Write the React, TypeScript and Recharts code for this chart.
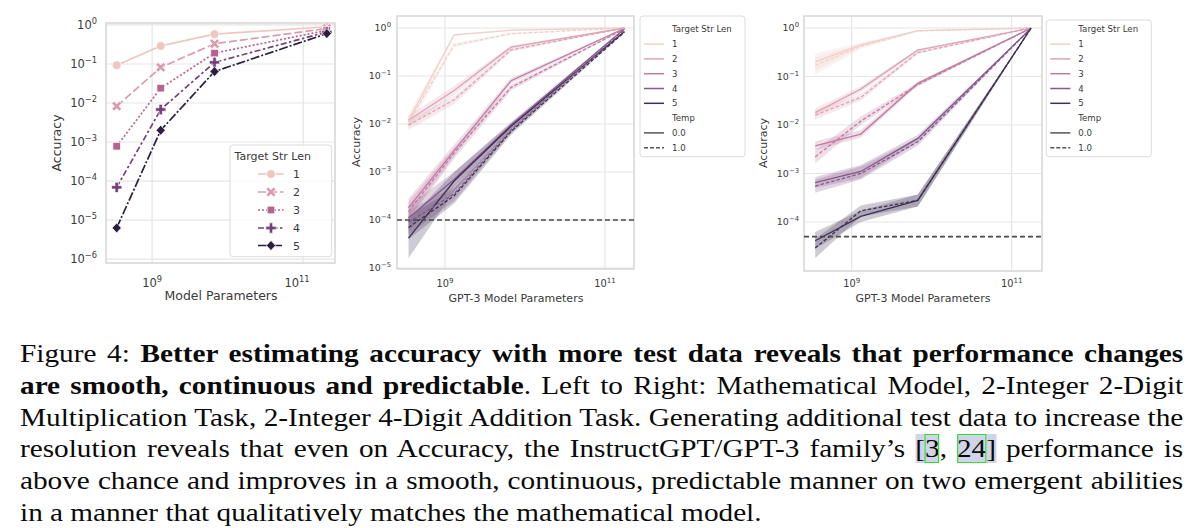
import React from "react";
import {
  ComposedChart,
  Line,
  Area,
  XAxis,
  YAxis,
  CartesianGrid,
  ReferenceLine,
  ReferenceArea,
} from "recharts";

// model sizes (x)
const paramsMath = [3.4e8, 1.3e9, 6.7e9, 2.05e11];
const paramsGpt3 = [3.5e8, 1.3e9, 6.7e9, 1.75e11];

const strLens = ["1", "2", "3", "4", "5"];
const temps = ["0.0", "1.0"];
const xTicks = [1e9, 1e10, 1e11];
const mathYTicks = [1e-6, 1e-5, 1e-4, 1e-3, 1e-2, 1e-1, 1];
const mulYTicks = [1e-5, 1e-4, 1e-3, 1e-2, 1e-1, 1];
const addYTicks = [1e-4, 1e-3, 1e-2, 1e-1, 1];

// left: mathematical model
const mathLen1 = [0.093, 0.29, 0.58, 0.9];
const mathLen2 = [0.0083, 0.082, 0.33, 0.81];
const mathLen3 = [0.00078, 0.024, 0.19, 0.73];
const mathLen4 = [0.000069, 0.0068, 0.11, 0.66];
const mathLen5 = [0.0000063, 0.002, 0.064, 0.6];

// middle: 2-integer 2-digit multiplication
const mulT0Len1 = [0.012, 0.72, 0.9, 1.0];
const mulT1Len1 = [0.011, 0.44, 0.76, 1.0];
const mulT0Len2 = [0.012, 0.05, 0.4, 1.0];
const mulT1Len2 = [0.0095, 0.032, 0.35, 1.0];
const mulT0Len3 = [0.00018, 0.0028, 0.08, 0.98];
const mulT1Len3 = [0.00015, 0.0025, 0.058, 0.95];
const mulT0Len4 = [0.00011, 0.0007, 0.0095, 0.97];
const mulT1Len4 = [0.00009, 0.00035, 0.0075, 0.93];
const mulT0Len5 = [0.000042, 0.00065, 0.009, 0.85];
const mulT1Len5 = [0.00007, 0.00032, 0.007, 0.82];

const mulT0Len1Ci = [[0.009, 0.016], [0.68, 0.76], [0.88, 0.92], [0.99, 1.0]];
const mulT1Len1Ci = [[0.008, 0.014], [0.4, 0.48], [0.73, 0.8], [0.99, 1.0]];
const mulT0Len2Ci = [[0.009, 0.015], [0.04, 0.062], [0.37, 0.43], [0.99, 1.0]];
const mulT1Len2Ci = [[0.0075, 0.012], [0.026, 0.038], [0.32, 0.38], [0.99, 1.0]];
const mulT0Len3Ci = [[0.00011, 0.00028], [0.0021, 0.0037], [0.07, 0.09], [0.97, 0.99]];
const mulT1Len3Ci = [[0.0001, 0.00024], [0.0019, 0.0032], [0.05, 0.066], [0.94, 0.96]];
const mulT0Len4Ci = [[0.00006, 0.0002], [0.0005, 0.001], [0.0082, 0.011], [0.96, 0.98]];
const mulT1Len4Ci = [[0.00005, 0.00016], [0.00025, 0.0005], [0.0065, 0.0087], [0.92, 0.94]];
const mulT0Len5Ci = [[0.000016, 0.0001], [0.0004, 0.001], [0.0078, 0.0105], [0.84, 0.86]];
const mulT1Len5Ci = [[0.00004, 0.00012], [0.00022, 0.00045], [0.006, 0.0082], [0.81, 0.83]];

// right: 2-integer 4-digit addition
const addT0Len1 = [0.2, 0.45, 0.88, 1.0];
const addT1Len1 = [0.17, 0.42, 0.87, 1.0];
const addT0Len2 = [0.018, 0.055, 0.35, 1.0];
const addT1Len2 = [0.016, 0.037, 0.31, 1.0];
const addT0Len3 = [0.0037, 0.0065, 0.072, 0.99];
const addT1Len3 = [0.0022, 0.012, 0.068, 0.99];
const addT0Len4 = [0.00065, 0.0011, 0.0053, 0.99];
const addT1Len4 = [0.00055, 0.001, 0.0045, 0.99];
const addT0Len5 = [0.000041, 0.00013, 0.00028, 1.0];
const addT1Len5 = [0.000029, 0.00017, 0.00028, 1.0];

const addT0Len1Ci = [[0.13, 0.3], [0.4, 0.5], [0.86, 0.9], [0.99, 1.0]];
const addT1Len1Ci = [[0.11, 0.25], [0.37, 0.47], [0.85, 0.89], [0.99, 1.0]];
const addT0Len2Ci = [[0.015, 0.022], [0.048, 0.063], [0.33, 0.37], [0.99, 1.0]];
const addT1Len2Ci = [[0.013, 0.02], [0.032, 0.043], [0.29, 0.33], [0.99, 1.0]];
const addT0Len3Ci = [[0.003, 0.0046], [0.0055, 0.0078], [0.066, 0.078], [0.98, 1.0]];
const addT1Len3Ci = [[0.0016, 0.003], [0.01, 0.015], [0.062, 0.074], [0.98, 1.0]];
const addT0Len4Ci = [[0.0005, 0.00085], [0.0008, 0.0015], [0.0045, 0.0062], [0.98, 1.0]];
const addT1Len4Ci = [[0.0004, 0.00075], [0.00075, 0.0014], [0.0038, 0.0054], [0.98, 1.0]];
const addT0Len5Ci = [[0.000028, 0.000062], [0.0001, 0.00017], [0.00021, 0.00037], [0.99, 1.0]];
const addT1Len5Ci = [[0.000018, 0.000045], [0.00013, 0.00022], [0.00021, 0.00037], [0.99, 1.0]];

const mulChance = 1e-4;
const addChance = 5e-5;

const mathColors = ["#eec8c0", "#da9cad", "#b6648f", "#74407a", "#2d1e3e"];
const gptColors = ["#f0d0ca", "#dda4b4", "#c07ca2", "#86578d", "#3f3055"];
const mathDash = [undefined, "8 3", "2 2", "6 2.5 2.5 2.5", "9 2 2 2"];
const markerKinds = ["circle", "x", "square", "plus", "diamond"];

const mathRows = paramsMath.map((x, i) => ({
  x,
  m1: mathLen1[i],
  m2: mathLen2[i],
  m3: mathLen3[i],
  m4: mathLen4[i],
  m5: mathLen5[i],
}));

function gptRows(t0: number[][], t1: number[][], c0: number[][][], c1: number[][][]) {
  return paramsGpt3.map((x, i) => {
    const row: any = { x };
    for (let k = 0; k < 5; k++) {
      row["s" + (k + 1)] = t0[k][i];
      row["d" + (k + 1)] = t1[k][i];
      row["bs" + (k + 1)] = c0[k][i];
      row["bd" + (k + 1)] = c1[k][i];
    }
    return row;
  });
}

const mulRows = gptRows(
  [mulT0Len1, mulT0Len2, mulT0Len3, mulT0Len4, mulT0Len5],
  [mulT1Len1, mulT1Len2, mulT1Len3, mulT1Len4, mulT1Len5],
  [mulT0Len1Ci, mulT0Len2Ci, mulT0Len3Ci, mulT0Len4Ci, mulT0Len5Ci],
  [mulT1Len1Ci, mulT1Len2Ci, mulT1Len3Ci, mulT1Len4Ci, mulT1Len5Ci]
);
const addRows = gptRows(
  [addT0Len1, addT0Len2, addT0Len3, addT0Len4, addT0Len5],
  [addT1Len1, addT1Len2, addT1Len3, addT1Len4, addT1Len5],
  [addT0Len1Ci, addT0Len2Ci, addT0Len3Ci, addT0Len4Ci, addT0Len5Ci],
  [addT1Len1Ci, addT1Len2Ci, addT1Len3Ci, addT1Len4Ci, addT1Len5Ci]
);

const FONT = "DejaVu Sans";
const TXT = "#3a3a3a";
const GRID = "#e6e6e6";
const FRAME = "#d9d9d9";

function expText(v: number) {
  const e = Math.round(Math.log10(v));
  return e < 0 ? "\u2212" + -e : String(e);
}

function makeYTick(fs: number) {
  return (props: any) => {
    const { x, y, payload } = props;
    return (
      <text x={x} y={y + fs * 0.36} textAnchor="end" fontSize={fs} fill={TXT} fontFamily={FONT}>
        10
        <tspan dy={-fs * 0.45} fontSize={fs * 0.72}>
          {expText(payload.value)}
        </tspan>
      </text>
    );
  };
}

function makeXTick(fs: number, dy: number) {
  return (props: any) => {
    const { x, y, payload } = props;
    return (
      <text x={x} y={y + dy} textAnchor="middle" fontSize={fs} fill={TXT} fontFamily={FONT}>
        10
        <tspan dy={-fs * 0.45} fontSize={fs * 0.72}>
          {expText(payload.value)}
        </tspan>
      </text>
    );
  };
}

function plusPts(cx: number, cy: number, r: number, w: number) {
  const p = [
    [-w, -r], [w, -r], [w, -w], [r, -w], [r, w], [w, w],
    [w, r], [-w, r], [-w, w], [-r, w], [-r, -w], [-w, -w],
  ];
  return p.map(([a, b]) => `${cx + a},${cy + b}`).join(" ");
}

function Marker({ kind, cx, cy, color }: { kind: string; cx: number; cy: number; color: string }) {
  const st = { fill: color, stroke: "#fff", strokeWidth: 0.7 };
  if (kind === "circle") return <circle cx={cx} cy={cy} r={4.4} {...st} />;
  if (kind === "square") return <rect x={cx - 3.8} y={cy - 3.8} width={7.6} height={7.6} {...st} />;
  if (kind === "diamond")
    return <polygon points={`${cx},${cy - 5} ${cx + 4.6},${cy} ${cx},${cy + 5} ${cx - 4.6},${cy}`} {...st} />;
  if (kind === "plus") return <polygon points={plusPts(cx, cy, 5.2, 1.7)} {...st} />;
  return <polygon points={plusPts(cx, cy, 5.4, 1.6)} transform={`rotate(45 ${cx} ${cy})`} {...st} />;
}

function MathChart() {
  const xDomain = [10 ** 8.39, 10 ** 11.42];
  const yDomain = [10 ** -6.1, 10 ** 0.05];
  return (
    <ComposedChart width={345} height={300} data={mathRows} margin={{ top: 23, right: 10, left: 0, bottom: 0 }}>
      <CartesianGrid stroke={GRID} strokeWidth={1.2} />
      <XAxis
        dataKey="x"
        type="number"
        scale="log"
        domain={xDomain}
        allowDataOverflow
        ticks={xTicks}
        height={37}
        tickLine={false}
        axisLine={false}
        tickSize={0}
        tickMargin={0}
        tick={makeXTick(11.5, 24)}
      />
      <YAxis
        type="number"
        scale="log"
        domain={yDomain}
        allowDataOverflow
        ticks={mathYTicks}
        width={106}
        tickLine={false}
        axisLine={false}
        tickSize={0}
        tickMargin={9}
        tick={makeYTick(11.5)}
      />
      <ReferenceArea
        x1={xDomain[0]}
        x2={xDomain[1]}
        y1={yDomain[0]}
        y2={yDomain[1]}
        fill="none"
        stroke={FRAME}
        strokeWidth={1.5}
        ifOverflow="visible"
      />
      {strLens.map((s, k) => (
        <Line
          key={s}
          dataKey={"m" + s}
          stroke={mathColors[k]}
          strokeWidth={1.7}
          strokeDasharray={mathDash[k]}
          isAnimationActive={false}
          activeDot={false}
          dot={(p: any) => (
            <Marker key={"mk" + s + "-" + p.index} kind={markerKinds[k]} cx={p.cx} cy={p.cy} color={mathColors[k]} />
          )}
        />
      ))}
    </ComposedChart>
  );
}

function GptChart({
  rows,
  width,
  right,
  yWidth,
  xAxisH,
  xDomain,
  yDomain,
  yTicks,
  chance,
  xTickDy,
  yTickMargin,
}: any) {
  return (
    <ComposedChart width={width} height={300} data={rows} margin={{ top: 16, right, left: 0, bottom: 0 }}>
      <CartesianGrid stroke={GRID} strokeWidth={1.2} />
      <XAxis
        dataKey="x"
        type="number"
        scale="log"
        domain={xDomain}
        allowDataOverflow
        ticks={xTicks}
        height={xAxisH}
        tickLine={false}
        axisLine={false}
        tickSize={0}
        tickMargin={0}
        tick={makeXTick(9.8, xTickDy)}
      />
      <YAxis
        type="number"
        scale="log"
        domain={yDomain}
        allowDataOverflow
        ticks={yTicks}
        width={yWidth}
        tickLine={false}
        axisLine={false}
        tickSize={0}
        tickMargin={yTickMargin}
        tick={makeYTick(9.5)}
      />
      <ReferenceArea
        x1={xDomain[0]}
        x2={xDomain[1]}
        y1={yDomain[0]}
        y2={yDomain[1]}
        fill="none"
        stroke={FRAME}
        strokeWidth={1.5}
        ifOverflow="visible"
      />
      {strLens.map((s, k) => (
        <Area
          key={"bs" + s}
          dataKey={"bs" + s}
          stroke="none"
          fill={gptColors[k]}
          fillOpacity={0.25}
          isAnimationActive={false}
          activeDot={false}
        />
      ))}
      {strLens.map((s, k) => (
        <Area
          key={"bd" + s}
          dataKey={"bd" + s}
          stroke="none"
          fill={gptColors[k]}
          fillOpacity={0.25}
          isAnimationActive={false}
          activeDot={false}
        />
      ))}
      {strLens.map((s, k) => (
        <Line
          key={"s" + s}
          dataKey={"s" + s}
          stroke={gptColors[k]}
          strokeWidth={1.3}
          dot={false}
          activeDot={false}
          isAnimationActive={false}
        />
      ))}
      {strLens.map((s, k) => (
        <Line
          key={"d" + s}
          dataKey={"d" + s}
          stroke={gptColors[k]}
          strokeWidth={1.3}
          strokeDasharray="3.5 2"
          dot={false}
          activeDot={false}
          isAnimationActive={false}
        />
      ))}
      <ReferenceLine y={chance} stroke="#4a4a4a" strokeWidth={1.6} strokeDasharray="5 3" />
    </ComposedChart>
  );
}

function GptLegend({ x, y, boxTop }: { x: number; y: number; boxTop: number }) {
  const rowY = (i: number) => y + i * 14.8;
  const fs = 8.6;
  return (
    <g fontFamily={FONT} fontSize={fs} fill={TXT}>
      <rect x={x - 32} y={boxTop} width={105} height={156.7 - boxTop} rx={3} fill="#fff" stroke="#dcdcdc" />
      <text x={x} y={rowY(0) + 3}>Target Str Len</text>
      {strLens.map((s, k) => (
        <g key={s}>
          <line x1={x - 28} x2={x - 8} y1={rowY(k + 1)} y2={rowY(k + 1)} stroke={gptColors[k]} strokeWidth={1.5} />
          <text x={x} y={rowY(k + 1) + 3}>{s}</text>
        </g>
      ))}
      <text x={x} y={rowY(6) + 3}>Temp</text>
      {temps.map((t, k) => (
        <g key={t}>
          <line
            x1={x - 28}
            x2={x - 8}
            y1={rowY(7 + k)}
            y2={rowY(7 + k)}
            stroke="#555"
            strokeWidth={1.5}
            strokeDasharray={k === 1 ? "4 2" : undefined}
          />
          <text x={x} y={rowY(7 + k) + 3}>{t}</text>
        </g>
      ))}
    </g>
  );
}

function MathLegend() {
  const rows = [174, 192, 210, 228, 245.5];
  return (
    <g fontFamily={FONT} fontSize={11} fill={TXT}>
      <rect x={230} y={145} width={101.7} height={111.7} rx={3} fill="#fff" fillOpacity={0.85} stroke="#dcdcdc" />
      <text x={234.5} y={160}>Target Str Len</text>
      {strLens.map((s, k) => (
        <g key={s}>
          <line
            x1={258}
            x2={283.5}
            y1={rows[k]}
            y2={rows[k]}
            stroke={mathColors[k]}
            strokeWidth={1.7}
            strokeDasharray={mathDash[k]}
          />
          <Marker kind={markerKinds[k]} cx={271} cy={rows[k]} color={mathColors[k]} />
          <text x={293} y={rows[k] + 4}>{s}</text>
        </g>
      ))}
    </g>
  );
}

const hl = { background: "#d1d4e8" };
const box = { outline: "1px solid #2fe02f", outlineOffset: "-1px" };

export default function App() {
  const lineStyle: React.CSSProperties = {
    width: 1034,
    height: 31.8,
    textAlign: "justify",
    textAlignLast: "justify",
    whiteSpace: "nowrap",
  };
  return (
    <div
      style={{
        position: "absolute",
        left: 0,
        top: 0,
        width: 1192,
        height: 528,
        background: "#fff",
        overflow: "hidden",
      }}
    >
      <div style={{ position: "absolute", left: 0, top: 0 }}>
        <MathChart />
      </div>
      <div style={{ position: "absolute", left: 340, top: 0 }}>
        <GptChart
          rows={mulRows}
          width={420}
          right={126}
          yWidth={57}
          xAxisH={31}
          xDomain={[10 ** 8.4, 10 ** 11.3625]}
          yDomain={[10 ** -5.02, 10 ** 0.25]}
          yTicks={mulYTicks}
          chance={mulChance}
          xTickDy={18}
          yTickMargin={6}
        />
      </div>
      <div style={{ position: "absolute", left: 760, top: 0 }}>
        <GptChart
          rows={addRows}
          width={432}
          right={150}
          yWidth={44}
          xAxisH={29}
          xDomain={[10 ** 8.404, 10 ** 11.379]}
          yDomain={[10 ** -5.01, 10 ** 0.247]}
          yTicks={addYTicks}
          chance={addChance}
          xTickDy={16}
          yTickMargin={5}
        />
      </div>
      <svg
        width={1192}
        height={320}
        style={{ position: "absolute", left: 0, top: 0, pointerEvents: "none" }}
      >
        <MathLegend />
        <GptLegend x={672} y={29.3} boxTop={16} />
        <GptLegend x={1078.3} y={29.3} boxTop={20} />
        <g fontFamily={FONT} fill={TXT}>
          <text transform="translate(56.7,143) rotate(-90)" textAnchor="middle" dominantBaseline="central" fontSize={12.5}>
            Accuracy
          </text>
          <text x={221} y={300} textAnchor="middle" fontSize={12.5}>
            Model Parameters
          </text>
          <text transform="translate(356,142) rotate(-90)" textAnchor="middle" dominantBaseline="central" fontSize={11}>
            Accuracy
          </text>
          <text x={516} y={301.5} textAnchor="middle" fontSize={11}>
            GPT-3 Model Parameters
          </text>
          <text transform="translate(763,143) rotate(-90)" textAnchor="middle" dominantBaseline="central" fontSize={11}>
            Accuracy
          </text>
          <text x={923} y={301.5} textAnchor="middle" fontSize={11}>
            GPT-3 Model Parameters
          </text>
        </g>
      </svg>
      <div
        style={{
          position: "absolute",
          left: 20,
          top: 338,
          transform: "scaleX(1.125)",
          transformOrigin: "left top",
          fontFamily: "'Liberation Serif', 'Times New Roman', serif",
          fontSize: 26,
          lineHeight: "31.8px",
          color: "#0a0a0a",
        }}
      >
        <div style={lineStyle}>
          Figure 4: <b>Better estimating accuracy with more test data reveals that performance changes</b>
        </div>
        <div style={lineStyle}>
          <b>are smooth, continuous and predictable</b>. Left to Right: Mathematical Model, 2-Integer 2-Digit
        </div>
        <div style={lineStyle}>
          Multiplication Task, 2-Integer 4-Digit Addition Task. Generating additional test data to increase the
        </div>
        <div style={lineStyle}>
          resolution reveals that even on Accuracy, the InstructGPT/GPT-3 family’s{" "}
          <span style={hl}>
            [<span style={box}>3</span>
          </span>
          ,{" "}
          <span style={hl}>
            <span style={box}>24</span>]
          </span>{" "}
          performance is
        </div>
        <div style={lineStyle}>
          above chance and improves in a smooth, continuous, predictable manner on two emergent abilities
        </div>
        <div style={{ ...lineStyle, textAlignLast: "left" }}>
          in a manner that qualitatively matches the mathematical model.
        </div>
      </div>
    </div>
  );
}
